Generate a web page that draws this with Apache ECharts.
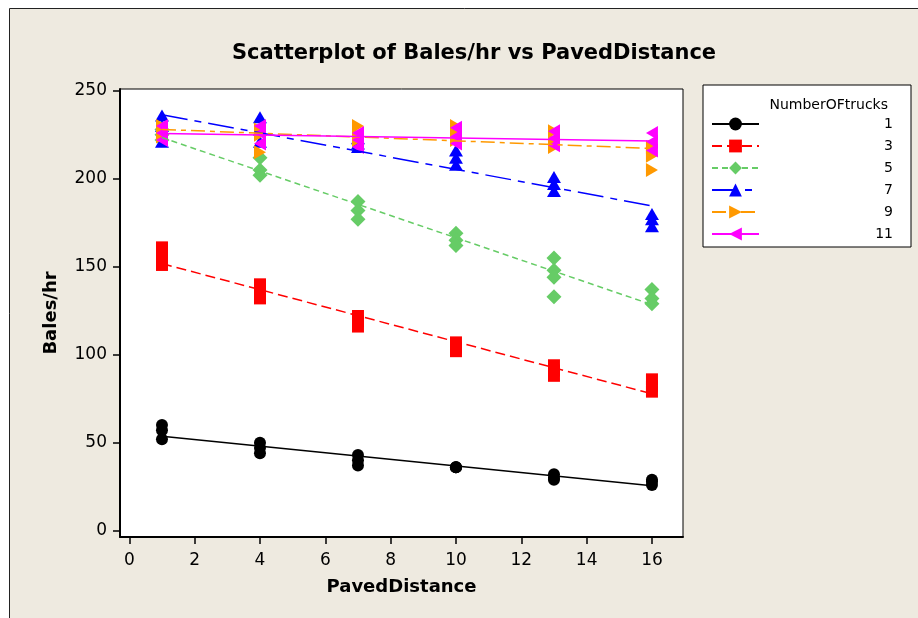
<!DOCTYPE html>
<html>
<head>
<meta charset="utf-8">
<script src="https://cdn.jsdelivr.net/npm/echarts@6/dist/echarts.min.js"></script>
<style>
  html, body { margin: 0; padding: 0; background: #fff; }
  #chart { width: 918px; height: 618px; }
</style>
</head>
<body>
<div id="chart"></div>
<script>
// x positions and the six truck groups
const distances = [1, 4, 7, 10, 13, 16];
const truckGroups = ['1', '3', '5', '7', '9', '11'];

// Bales/hr readings per distance (replicates)
const bales1  = [[60, 57, 52], [50, 47, 44], [43, 40, 37], [36, 36, 36], [32, 30, 29], [29, 28, 26]];
const bales3  = [[161, 156, 151], [140, 136, 132], [122, 119, 116], [107, 104, 102], [94, 91, 88], [86, 82, 79]];
const bales5  = [[228, 225, 222], [212, 205, 202], [187, 182, 177], [169, 165, 162], [155, 148, 144, 133], [137, 132, 129]];
const bales7  = [[236, 230, 221], [235, 228, 221], [223, 220, 218], [216, 212, 208], [201, 197, 193], [180, 177, 173]];
const bales9  = [[230, 227, 224], [228, 225, 215], [230, 225, 222], [230, 226, 222], [227, 222, 218], [218, 213, 205]];
const bales11 = [[230, 226, 222], [230, 226, 220], [226, 222, 218], [229, 224, 220], [227, 223, 219], [226, 221, 216]];

const xTicks = [0, 2, 4, 6, 8, 10, 12, 14, 16];
const yTicks = [0, 50, 100, 150, 200, 250];

const groupData = [bales1, bales3, bales5, bales7, bales9, bales11];
const colors = ['#000000', '#ff0000', '#66cc66', '#0000ff', '#ff9900', '#ff00ff'];
const symbols = ['circle', 'rect', 'diamond', 'triangle', 'triangle', 'triangle'];
const rotates = [0, 0, 0, 0, -90, 90];
const sizes = [12, 12, 15, [14, 12], [14, 12], [14, 12]];
const dashes = ['solid', [10, 5], [6, 4], [26, 7, 7, 7], [14, 5, 5, 5], 'solid'];

const font = 'DejaVu Sans';

function toPoints(rows) {
  const pts = [];
  rows.forEach((vals, i) => vals.forEach(v => pts.push([distances[i], v])));
  return pts;
}

// least squares fit line over the group's points
function fitLine(pts) {
  const n = pts.length;
  const mx = pts.reduce((s, p) => s + p[0], 0) / n;
  const my = pts.reduce((s, p) => s + p[1], 0) / n;
  let sxy = 0, sxx = 0;
  pts.forEach(p => { sxy += (p[0] - mx) * (p[1] - my); sxx += (p[0] - mx) * (p[0] - mx); });
  const b = sxy / sxx;
  const a = my - b * mx;
  const x0 = distances[0], x1 = distances[distances.length - 1];
  return [[x0, a + b * x0], [x1, a + b * x1]];
}

const series = [];
groupData.forEach((rows, i) => {
  const pts = toPoints(rows);
  series.push({
    name: truckGroups[i] + ' pts',
    type: 'scatter',
    data: pts,
    symbol: symbols[i],
    symbolRotate: rotates[i],
    symbolSize: sizes[i],
    itemStyle: { color: colors[i], opacity: 1 }
  });
  series.push({
    name: truckGroups[i],
    type: 'line',
    data: fitLine(pts),
    symbol: symbols[i],
    symbolRotate: rotates[i],
    showSymbol: false,
    color: colors[i],
    itemStyle: { color: colors[i] },
    lineStyle: { color: colors[i], width: 1.5, type: dashes[i] }
  });
});

const chart = echarts.init(document.getElementById('chart'));
chart.setOption({
  animation: false,
  backgroundColor: '#ffffff',
  graphic: [{
    type: 'rect',
    shape: { x: 9.5, y: 8.5, width: 940, height: 640 },
    style: { fill: '#eeeae0', stroke: '#222', lineWidth: 1 },
    z: -10, silent: true
  }],
  title: [{
    text: 'Scatterplot of Bales/hr vs PavedDistance',
    left: 469, top: 38, textAlign: 'center',
    textStyle: { fontFamily: font, fontSize: 21, fontWeight: 'bold', color: '#000' }
  }, {
    text: 'NumberOFtrucks',
    right: 25, top: 93,
    textStyle: { fontFamily: font, fontSize: 14, fontWeight: 'normal', color: '#000' }
  }],
  legend: {
    data: truckGroups,
    orient: 'vertical',
    left: 703, top: 85,
    padding: [32, 18, 6, 8],
    itemWidth: 47, itemHeight: 16, itemGap: 8,
    borderColor: '#000', borderWidth: 1,
    backgroundColor: '#ffffff',
    selectedMode: false,
    formatter: '{r|{name}}',
    textStyle: {
      fontFamily: font, fontSize: 14, color: '#000',
      rich: { r: { width: 129, align: 'right', fontFamily: font, fontSize: 14 } }
    }
  },
  grid: {
    left: 120, top: 89, width: 563, height: 448,
    show: true, backgroundColor: '#ffffff', borderColor: '#000', borderWidth: 1
  },
  xAxis: {
    type: 'value', min: -0.285, max: 16.95,
    name: 'PavedDistance', nameLocation: 'middle', nameGap: 41,
    nameTextStyle: { fontFamily: font, fontSize: 18, fontWeight: 'bold', color: '#000' },
    axisLine: { show: true, onZero: false, lineStyle: { color: '#000', width: 2 } },
    axisTick: { show: true, length: 7, customValues: xTicks, lineStyle: { color: '#000', width: 1.5 } },
    axisLabel: { customValues: xTicks, margin: 15, fontFamily: font, fontSize: 17, color: '#000' },
    splitLine: { show: false }
  },
  yAxis: {
    type: 'value', min: -3.6, max: 251,
    name: 'Bales/hr', nameLocation: 'middle', nameGap: 60,
    nameTextStyle: { fontFamily: font, fontSize: 18, fontWeight: 'bold', color: '#000' },
    axisLine: { show: true, onZero: false, lineStyle: { color: '#000', width: 2 } },
    axisTick: { show: true, length: 7, customValues: yTicks, lineStyle: { color: '#000', width: 1.5 } },
    axisLabel: { customValues: yTicks, margin: 13, fontFamily: font, fontSize: 17, color: '#000' },
    splitLine: { show: false }
  },
  series: series
});
</script>
</body>
</html>
